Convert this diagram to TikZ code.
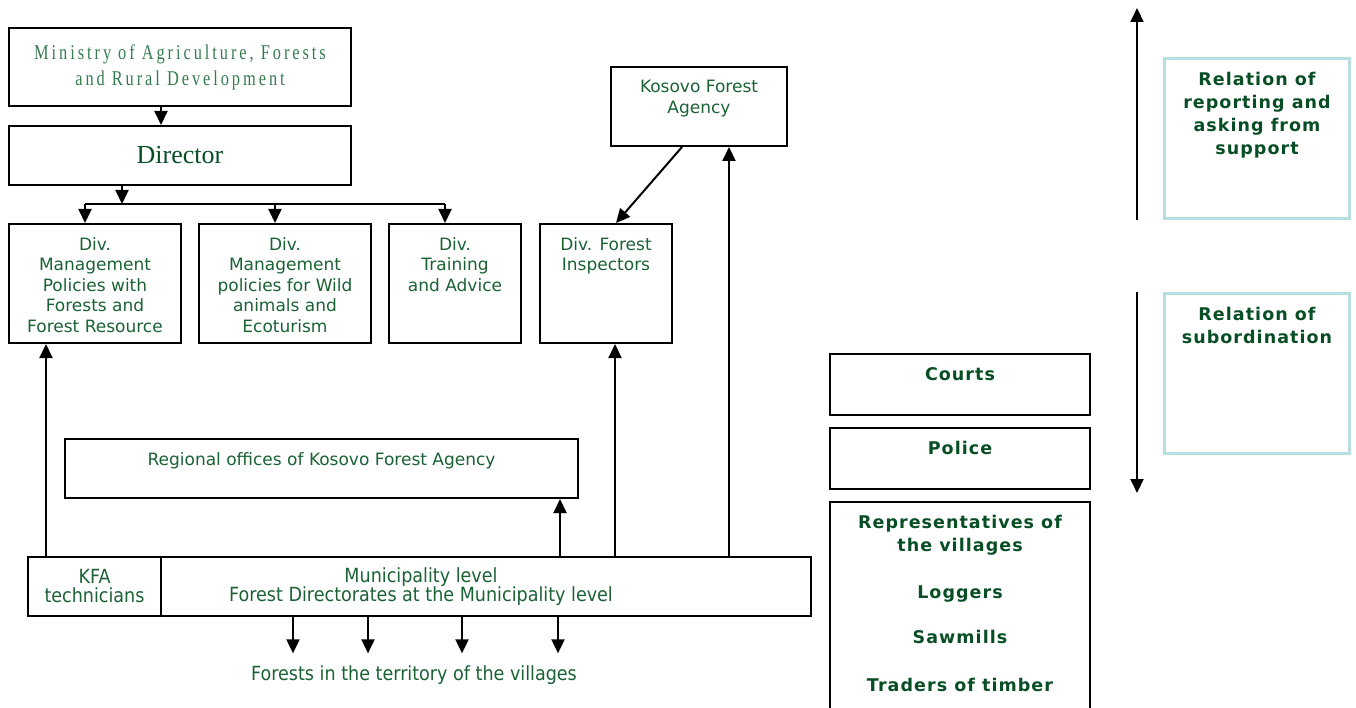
\documentclass[tikz,border=0pt]{standalone}
\usepackage{fontspec}
\setmainfont{DejaVu Sans}
\newfontfamily\minfont[FakeStretch=0.78,LetterSpace=14]{Liberation Serif}
\newfontfamily\dirfont{Liberation Serif}
\newfontfamily\condfont[FakeStretch=0.9]{DejaVu Sans}
\newfontfamily\legfont[LetterSpace=6]{DejaVu Sans}
\usetikzlibrary{arrows.meta}

\definecolor{txtgreen}{RGB}{26,98,52}
\definecolor{darkgreen}{RGB}{8,78,36}
\definecolor{lightgreen}{RGB}{52,124,80}
\definecolor{legendline}{RGB}{183,222,226}

% text block hanging from the top of a box
\newcommand{\topbox}[3]{\parbox[t][#2][t]{#1}{\centering\vspace*{13.5pt}#3}}

\begin{document}
\begin{tikzpicture}[x=1pt,y=-1pt,
  box/.style={draw=black, line width=2pt, inner sep=0pt, anchor=north west,
    text=txtgreen, font=\fontsize{17}{20.5}\selectfont},
  sidebox/.style={box, text=darkgreen, font=\legfont\bfseries\fontsize{17.5}{23}\selectfont},
  legbox/.style={sidebox, draw=legendline, line width=3pt},
  mfont/.style={font=\condfont\fontsize{19.5}{19}\selectfont},
  arr/.style={line width=2pt, -{Triangle[length=14pt,width=13pt]}},
  bar/.style={line width=2pt}]
\useasboundingbox (0,0) rectangle (1356,708);

% ministry and its divisions
\node[box, minimum width=342pt, minimum height=78pt, align=center, text=lightgreen,
  font=\minfont\fontsize{21}{26}\selectfont] (min) at (8,27)
  {Ministry of Agriculture, Forests\\and Rural Development};
\node[box, minimum width=342pt, minimum height=59pt, text=darkgreen,
  font=\dirfont\fontsize{26}{30}\selectfont] (dir) at (8,125) {Director};
\node[box] (divmf) at (8,223)
  {\topbox{172pt}{119pt}{Div.\\Management\\Policies with\\Forests and\\Forest Resource}};
\node[box] (divwa) at (198,223)
  {\topbox{172pt}{119pt}{Div.\\Management\\policies for Wild\\animals and\\Ecoturism}};
\node[box] (divtr) at (388,223)
  {\topbox{132pt}{119pt}{Div.\\Training\\and Advice}};
\node[box] (ins) at (539,223)
  {\topbox{132pt}{119pt}{Div. Forest\\Inspectors}};
\node[box] (kfa) at (610,66)
  {\topbox{176pt}{79pt}{Kosovo Forest\\Agency}};
\node[box] (reg) at (64,438)
  {\topbox{513pt}{59pt}{Regional offices of Kosovo Forest Agency}};

% municipality level
\node[box, mfont, minimum width=133pt, minimum height=59pt, align=center] (tech) at (27,556)
  {KFA\\technicians};
\node[box, mfont, minimum width=650pt, minimum height=59pt] (muni) at (160,556)
  {\makebox[650pt][l]{\parbox{520pt}{\centering Municipality level\\Forest Directorates at the Municipality level}}};
\node[mfont, text=txtgreen, inner ysep=12pt] (forests) at (414,675)
  {Forests in the territory of the villages};

% other actors
\node[sidebox] (courts) at (829,353) {\topbox{260pt}{61pt}{Courts}};
\node[sidebox] (police) at (829,427) {\topbox{260pt}{61pt}{Police}};
\node[sidebox] (rep) at (829,501)
  {\topbox{260pt}{230pt}{Representatives of\\the villages\\[24pt]Loggers\\[22pt]Sawmills\\[25pt]Traders of timber}};

% legend
\node[legbox] (leg1) at (1163,57)
  {\topbox{185pt}{160pt}{Relation of\\reporting and\\asking from\\support}};
\node[legbox] (leg2) at (1163,292)
  {\topbox{185pt}{160pt}{Relation of\\subordination}};

% connectors
\draw[arr] ([xshift=-19pt]min.south) -- ([xshift=-19pt]dir.north);
\coordinate (bus) at (122,204);
\draw[arr] (dir.south -| bus) -- (bus);
\draw[bar] ([xshift=-10pt]divmf.north |- bus) -- ([xshift=-10pt]divtr.north |- bus);
\foreach \d in {divmf,divwa,divtr}
  \draw[arr] ([xshift=-10pt]\d.north |- bus) -- ([xshift=-10pt]\d.north);
\draw[arr] ([xshift=-17pt]kfa.south) -- ([xshift=10pt]ins.north);

\draw[arr] ([xshift=-49pt]divmf.south |- tech.north) -- ([xshift=-49pt]divmf.south);
\draw[arr] ([xshift=-19pt]reg.south east |- muni.north) -- ([xshift=-19pt]reg.south east);
\draw[arr] ([xshift=9pt]ins.south |- muni.north) -- ([xshift=9pt]ins.south);
\draw[arr] ([xshift=30pt]kfa.south |- muni.north) -- ([xshift=30pt]kfa.south);
\foreach \x in {293,368,462,558}
  \draw[arr] (muni.south -| \x,0) -- (forests.north -| \x,0);

\draw[arr] ([xshift=-26pt]leg1.south west) -- ([xshift=-26pt,yshift=49pt]leg1.north west);
\draw[arr] ([xshift=-26pt]leg2.north west) -- ([xshift=-26pt,yshift=-38pt]leg2.south west);
\end{tikzpicture}
\end{document}
